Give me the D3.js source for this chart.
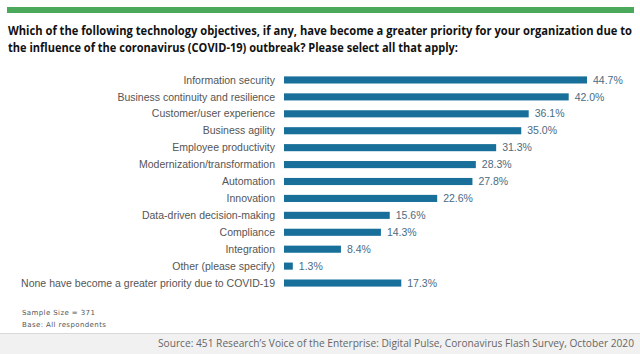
<!DOCTYPE html>
<html>
<head>
<meta charset="utf-8">
<script src="https://cdn.jsdelivr.net/npm/d3@7"></script>
<style>
  body { margin: 0; background: #fff; }
  svg { display: block; }
</style>
</head>
<body>
<script>
// chart values
const categories = [
  "Information security",
  "Business continuity and resilience",
  "Customer/user experience",
  "Business agility",
  "Employee productivity",
  "Modernization/transformation",
  "Automation",
  "Innovation",
  "Data-driven decision-making",
  "Compliance",
  "Integration",
  "Other (please specify)",
  "None have become a greater priority due to COVID-19"
];
const values = [44.7, 42.0, 36.1, 35.0, 31.3, 28.3, 27.8, 22.6, 15.6, 14.3, 8.4, 1.3, 17.3];

const titleLines = [
  "Which of the following technology objectives, if any, have become a greater priority for your organization due to",
  "the influence of the coronavirus (COVID-19) outbreak? Please select all that apply:"
];
const notes = ["Sample Size = 371", "Base: All respondents"];
const source = "Source: 451 Research\u2019s Voice of the Enterprise: Digital Pulse, Coronavirus Flash Survey, October 2020";

const W = 640, H = 354;
const svg = d3.select("body").append("svg").attr("width", W).attr("height", H);

// green strip on top
svg.append("rect").attr("x", 7).attr("y", 7).attr("width", 627).attr("height", 6).attr("fill", "#4aa95b");

// title
titleLines.forEach((t, i) => {
  svg.append("text")
    .attr("x", 8).attr("y", 35 + i * 17)
    .attr("font-family", "'Open Sans', sans-serif")
    .attr("font-weight", "bold")
    .attr("font-size", 12)
    .attr("fill", "#111")
    .attr("textLength", i == 0 ? 624 : 450)
    .attr("lengthAdjust", "spacingAndGlyphs")
    .text(t);
});

// scales
const x = d3.scaleLinear().domain([0, 44.7]).range([284, 587]);
const y = d3.scaleBand().domain(categories).range([71.5, 291.5]).paddingInner(0.58).paddingOuter(0.29);

const rows = categories.map((c, i) => ({ name: c, value: values[i] }));

svg.selectAll("rect.bar").data(rows).enter().append("rect")
  .attr("class", "bar")
  .attr("x", x(0))
  .attr("y", d => y(d.name))
  .attr("width", d => x(d.value) - x(0))
  .attr("height", y.bandwidth())
  .attr("fill", "#18709a");

svg.selectAll("text.cat").data(rows).enter().append("text")
  .attr("class", "cat")
  .attr("x", 275)
  .attr("y", d => y(d.name) + y.bandwidth() / 2)
  .attr("dy", "0.35em")
  .attr("text-anchor", "end")
  .attr("font-family", "'Liberation Sans', Arial, sans-serif")
  .attr("font-size", 10.5)
  .attr("fill", "#555")
  .text(d => d.name);

svg.selectAll("text.val").data(rows).enter().append("text")
  .attr("class", "val")
  .attr("x", d => x(d.value) + 6)
  .attr("y", d => y(d.name) + y.bandwidth() / 2)
  .attr("dy", "0.35em")
  .attr("font-family", "'Liberation Sans', Arial, sans-serif")
  .attr("font-size", 10.5)
  .attr("fill", "#4b6b82")
  .text(d => d.value.toFixed(1) + "%");

// notes
notes.forEach((t, i) => {
  svg.append("text")
    .attr("x", 22).attr("y", 315 + i * 12)
    .attr("font-family", "'DejaVu Sans', sans-serif")
    .attr("font-size", 7)
    .attr("letter-spacing", 0.4)
    .attr("fill", "#555")
    .text(t);
});

// footer band
svg.append("rect").attr("x", 0).attr("y", 333).attr("width", W).attr("height", H - 333).attr("fill", "#f1f1f1");
svg.append("line").attr("x1", 0).attr("x2", W).attr("y1", 333.5).attr("y2", 333.5).attr("stroke", "#d9d9d9");
svg.append("text")
  .attr("x", 634).attr("y", 347)
  .attr("text-anchor", "end")
  .attr("font-family", "'Open Sans', sans-serif")
  .attr("font-size", 10)
  .attr("fill", "#666")
  .attr("textLength", 476)
  .attr("lengthAdjust", "spacingAndGlyphs")
  .text(source);
</script>
</body>
</html>
